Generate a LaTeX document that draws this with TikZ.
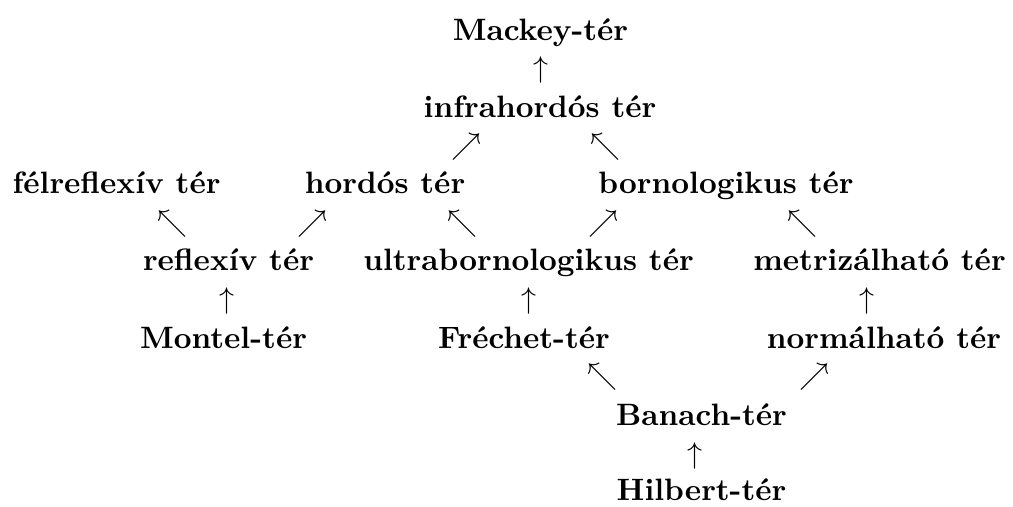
\documentclass[tikz,border=0pt]{standalone}
\usepackage{fontspec}
\begin{document}
\begin{tikzpicture}[x=0.3333pt,y=-0.3333pt,
  lbl/.style={font=\fontsize{10.3pt}{12pt}\selectfont\bfseries, inner sep=0pt, anchor=base},
  arr/.style={inner sep=0pt, anchor=center}]
\useasboundingbox (0,0) rectangle (1013,506);
% text nodes
\node[lbl] (mackey) at (540.5,40) {Mackey-tér};
\node[lbl] (infra) at (540,117) {infrahordós tér};
\node[lbl] (felrefl) at (116.5,193) {félreflexív tér};
\node[lbl] (hordos) at (385,193) {hordós tér};
\node[lbl] (born) at (726,193) {bornologikus tér};
\node[lbl] (refl) at (228.5,270) {reflexív tér};
\node[lbl] (ultra) at (528.5,270) {ultrabornologikus tér};
\node[lbl] (metr) at (879.5,270) {metrizálható tér};
\node[lbl] (montel) at (223.5,348) {Montel-tér};
\node[lbl] (frechet) at (524,348) {Fréchet-tér};
\node[lbl] (norm) at (884,348) {normálható tér};
\node[lbl] (banach) at (701.5,425) {Banach-tér};
\node[lbl] (hilbert) at (701.5,500) {Hilbert-tér};
% arrows
\node[arr] (a1) at (541,70) {$\uparrow$};
\node[arr] (a2) at (466,147) {$\nearrow$};
\node[arr] (a3) at (605.5,147) {$\nwarrow$};
\node[arr] (a4) at (172.5,224) {$\nwarrow$};
\node[arr] (a5) at (312.5,224) {$\nearrow$};
\node[arr] (a6) at (462.5,224) {$\nwarrow$};
\node[arr] (a7) at (603.5,224) {$\nearrow$};
\node[arr] (a8) at (802,224) {$\nwarrow$};
\node[arr] (a9) at (227,301) {$\uparrow$};
\node[arr] (a10) at (529,301) {$\uparrow$};
\node[arr] (a11) at (867,301) {$\uparrow$};
\node[arr] (a12) at (602.5,377) {$\nwarrow$};
\node[arr] (a13) at (814,377) {$\nearrow$};
\node[arr] (a14) at (695,456) {$\uparrow$};
\end{tikzpicture}
\end{document}
